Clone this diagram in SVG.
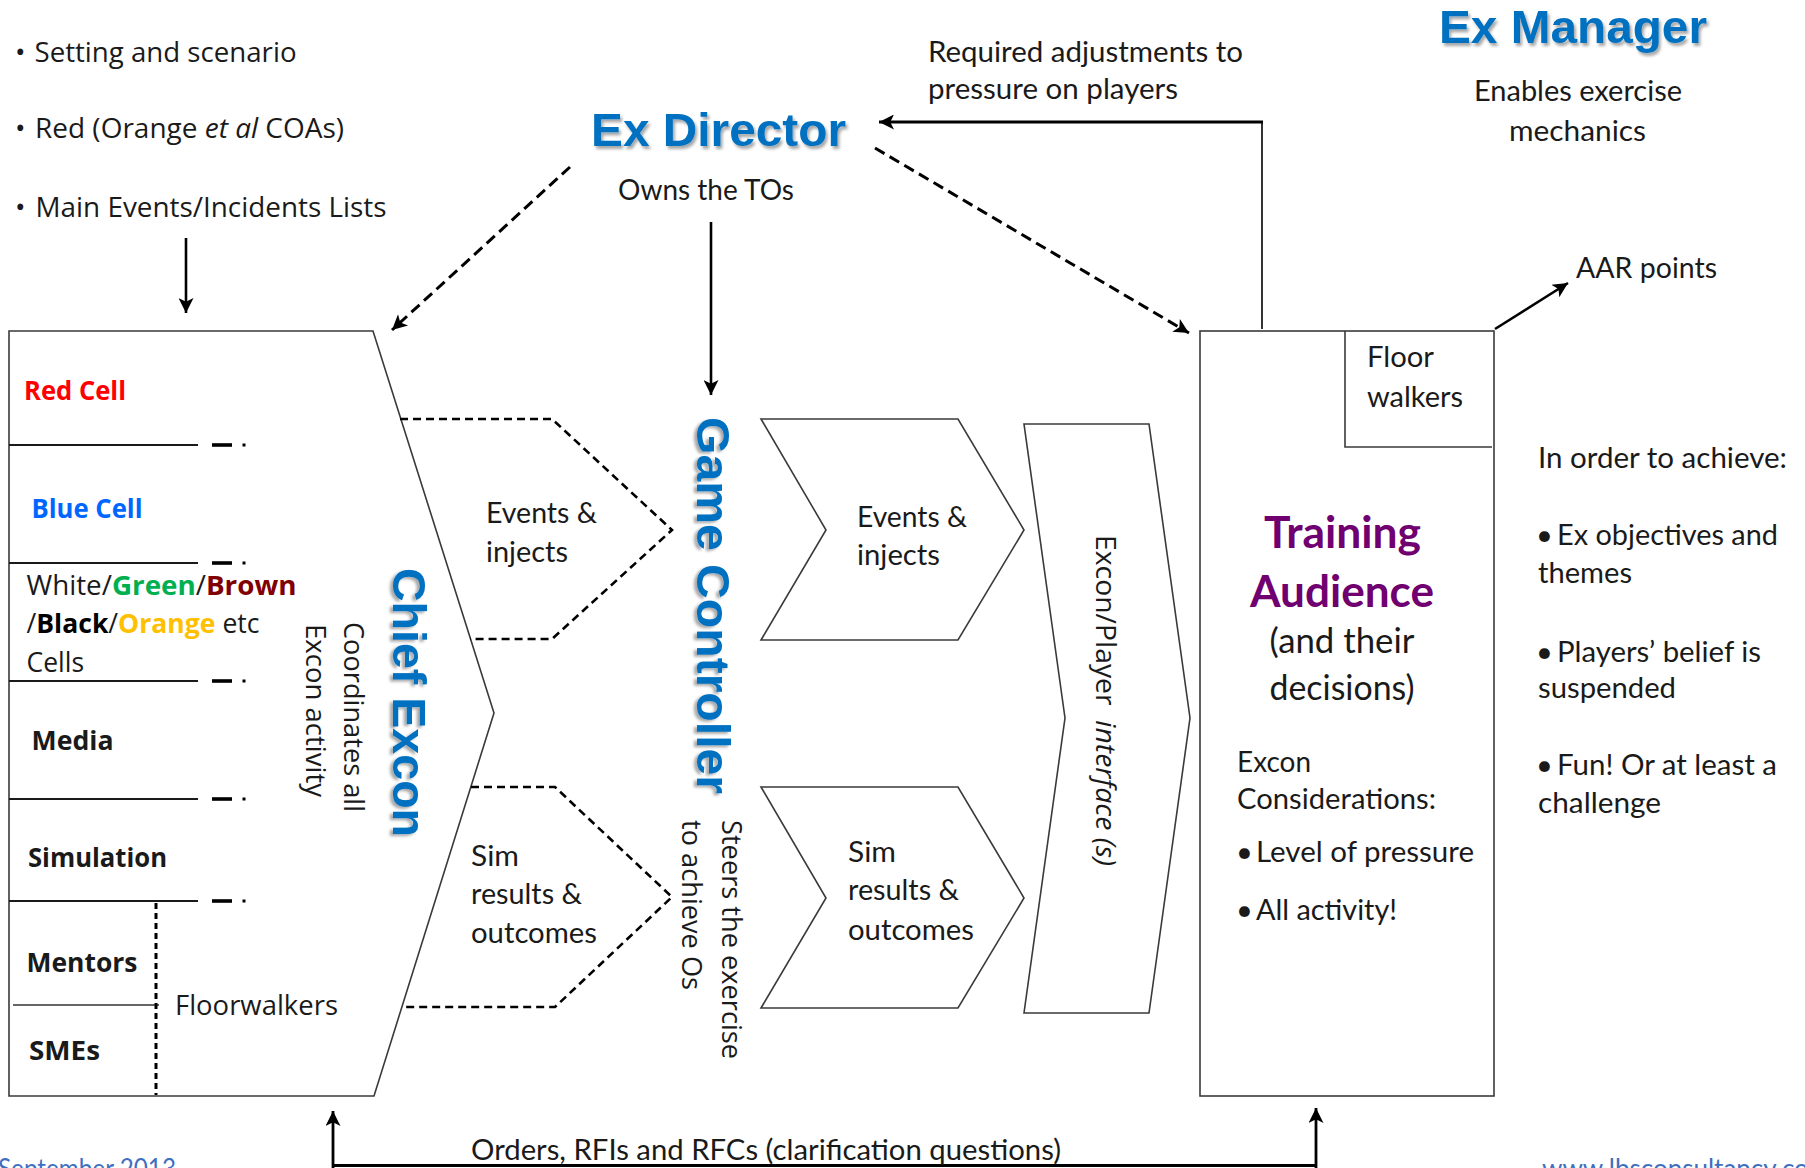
<svg xmlns="http://www.w3.org/2000/svg" width="1805" height="1168" viewBox="0 0 1805 1168">
  <style>
    .os { font-family: "Open Sans", "DejaVu Sans", sans-serif; fill: #1a1a1a; }
    .lt { font-family: Lato, "Liberation Sans", sans-serif; fill: #1a1a1a; }
    .b { font-weight: bold; }
    .ttl { font-family: "Liberation Sans", Arial, sans-serif; font-weight: bold; font-size: 46px; fill: #0070C0; }
    .ta { font-family: Lato, "Liberation Sans", sans-serif; font-weight: bold; font-size: 44px; fill: #700070; }
    .shape { fill: #fff; stroke: #3a3a3a; stroke-width: 1.6; }
    .dash { fill: none; stroke: #000; stroke-width: 2.6; stroke-dasharray: 8 5; }
    .cell { stroke: #1a1a1a; stroke-width: 2; }
    .tick { stroke: #000; stroke-width: 3.6; }
    .arr { fill: none; stroke: #000; stroke-width: 2.6; }
    .arrd { fill: none; stroke: #000; stroke-width: 3; stroke-dasharray: 11 6; }
    .foot { font-family: Lato, "Liberation Sans", sans-serif; font-size: 26px; fill: #3F6FC0; }
  </style>
  <defs>
    <marker id="ah" viewBox="0 0 10 10" refX="10" refY="5" markerWidth="18" markerHeight="15" markerUnits="userSpaceOnUse" orient="auto">
      <path d="M0,0 L10,5 L0,10 L2.5,5 z" fill="#000"/>
    </marker>
    <filter id="sh" x="-10%" y="-20%" width="120%" height="150%">
      <feDropShadow dx="2" dy="3" stdDeviation="1.6" flood-color="#000" flood-opacity="0.35"/>
    </filter>
  </defs>

  <rect width="1805" height="1168" fill="#fff"/>

  <!-- source material notes -->
  <g id="inputs" class="os" font-size="28">
    <text x="15" y="61.7">•</text>
    <text x="34.5" y="61.7" textLength="262" lengthAdjust="spacingAndGlyphs">Setting and scenario</text>
    <text x="15" y="138.3">•</text>
    <text x="35" y="138.3" textLength="309" lengthAdjust="spacingAndGlyphs">Red (Orange <tspan font-style="italic">et al</tspan> COAs)</text>
    <text x="15" y="216.7">•</text>
    <text x="35.5" y="216.7" textLength="351" lengthAdjust="spacingAndGlyphs">Main Events/Incidents Lists</text>
  </g>

  <!-- Ex Director -->
  <g id="ex-director">
    <text class="ttl" x="591" y="146" textLength="255" lengthAdjust="spacingAndGlyphs" filter="url(#sh)">Ex Director</text>
    <text class="lt" font-size="29" x="618" y="200" textLength="176" lengthAdjust="spacingAndGlyphs">Owns the TOs</text>
  </g>

  <!-- Ex Manager -->
  <g id="ex-manager">
    <text class="ttl" x="1439" y="43" textLength="268" lengthAdjust="spacingAndGlyphs" filter="url(#sh)">Ex Manager</text>
    <text class="lt" font-size="29" x="1474" y="101" textLength="208" lengthAdjust="spacingAndGlyphs">Enables exercise</text>
    <text class="lt" font-size="29" x="1509" y="141" textLength="137" lengthAdjust="spacingAndGlyphs">mechanics</text>
  </g>

  <!-- Chief Excon and its cells -->
  <g id="chief-excon">
    <polygon class="shape" points="9,331 373,331 494,713 374,1096 9,1096"/>
    <g>
      <line class="cell" x1="9" y1="445" x2="198" y2="445"/>
      <line class="tick" x1="212" y1="445" x2="232" y2="445"/>
      <rect x="242.5" y="443.5" width="3" height="3" fill="#000"/>
      <line class="cell" x1="9" y1="563" x2="198" y2="563"/>
      <line class="tick" x1="212" y1="563" x2="232" y2="563"/>
      <rect x="242.5" y="561.5" width="3" height="3" fill="#000"/>
      <line class="cell" x1="9" y1="681" x2="198" y2="681"/>
      <line class="tick" x1="212" y1="681" x2="232" y2="681"/>
      <rect x="242.5" y="679.5" width="3" height="3" fill="#000"/>
      <line class="cell" x1="9" y1="799" x2="198" y2="799"/>
      <line class="tick" x1="212" y1="799" x2="232" y2="799"/>
      <rect x="242.5" y="797.5" width="3" height="3" fill="#000"/>
      <line class="cell" x1="9" y1="901" x2="198" y2="901"/>
      <line class="tick" x1="212" y1="901" x2="232" y2="901"/>
      <rect x="242.5" y="899.5" width="3" height="3" fill="#000"/>
      <line x1="13" y1="1005" x2="159" y2="1005" stroke="#333" stroke-width="1.4"/>
      <line x1="156" y1="903" x2="156" y2="1095" stroke="#000" stroke-width="3" stroke-dasharray="6 4"/>
    </g>
    <g class="os" font-size="27">
      <text class="b" x="24" y="400" style="fill:#FF0000" textLength="102" lengthAdjust="spacingAndGlyphs">Red Cell</text>
      <text class="b" x="31.5" y="518" style="fill:#0066FF" textLength="111" lengthAdjust="spacingAndGlyphs">Blue Cell</text>
      <text x="26.5" y="595" textLength="270" lengthAdjust="spacingAndGlyphs">White/<tspan class="b" style="fill:#00B050">Green</tspan>/<tspan class="b" style="fill:#800000">Brown</tspan></text>
      <text x="26.5" y="633" textLength="233" lengthAdjust="spacingAndGlyphs">/<tspan class="b" style="fill:#000">Black</tspan>/<tspan class="b" style="fill:#FFC000">Orange</tspan> etc</text>
      <text x="26.5" y="671.7" textLength="57.5" lengthAdjust="spacingAndGlyphs">Cells</text>
      <text class="b" x="31.5" y="750" textLength="82" lengthAdjust="spacingAndGlyphs">Media</text>
      <text class="b" x="28" y="866.7" textLength="139" lengthAdjust="spacingAndGlyphs">Simulation</text>
      <text class="b" x="26.5" y="971.7" textLength="111" lengthAdjust="spacingAndGlyphs">Mentors</text>
      <text class="b" x="29" y="1060" textLength="71" lengthAdjust="spacingAndGlyphs">SMEs</text>
      <text x="175" y="1015" textLength="163" lengthAdjust="spacingAndGlyphs">Floorwalkers</text>
      <text transform="translate(306,624) rotate(90)" textLength="173" lengthAdjust="spacingAndGlyphs">Excon activity</text>
      <text transform="translate(344,622) rotate(90)" textLength="190" lengthAdjust="spacingAndGlyphs">Coordinates all</text>
    </g>
    <text class="ttl" transform="translate(393,568) rotate(90)" textLength="269" lengthAdjust="spacingAndGlyphs" filter="url(#sh)">Chief Excon</text>
  </g>

  <!-- flows out of Chief Excon -->
  <g id="excon-events">
    <path class="dash" d="M400,419 H552 L672,530 L552,639 H470"/>
    <text class="lt" font-size="29" x="486" y="522.7" textLength="111" lengthAdjust="spacingAndGlyphs">Events &amp;</text>
    <text class="lt" font-size="29" x="486" y="561.7" textLength="82" lengthAdjust="spacingAndGlyphs">injects</text>
  </g>
  <g id="excon-sim">
    <path class="dash" d="M471,787 H555 L672,897 L555,1007 H402"/>
    <text class="lt" font-size="29" x="471" y="866" textLength="48" lengthAdjust="spacingAndGlyphs">Sim</text>
    <text class="lt" font-size="29" x="471" y="904" textLength="111" lengthAdjust="spacingAndGlyphs">results &amp;</text>
    <text class="lt" font-size="29" x="471" y="943" textLength="126" lengthAdjust="spacingAndGlyphs">outcomes</text>
  </g>

  <!-- Game Controller -->
  <g id="game-controller">
    <text class="ttl" transform="translate(697,417) rotate(90)" textLength="377" lengthAdjust="spacingAndGlyphs" filter="url(#sh)">Game Controller</text>
    <text class="os" font-size="27.5" transform="translate(722,820) rotate(90)" textLength="239" lengthAdjust="spacingAndGlyphs">Steers the exercise</text>
    <text class="os" font-size="27.5" transform="translate(682,820) rotate(90)" textLength="170" lengthAdjust="spacingAndGlyphs">to achieve Os</text>
  </g>

  <!-- flows to the players -->
  <g id="gc-events">
    <polygon class="shape" points="761,419 958,419 1024,530 958,640 761,640 826,530"/>
    <text class="lt" font-size="29" x="857" y="527" textLength="110" lengthAdjust="spacingAndGlyphs">Events &amp;</text>
    <text class="lt" font-size="29" x="857" y="565" textLength="83" lengthAdjust="spacingAndGlyphs">injects</text>
  </g>
  <g id="gc-sim">
    <polygon class="shape" points="761,787 958,787 1024,898 958,1008 761,1008 826,898"/>
    <text class="lt" font-size="29" x="848" y="862" textLength="48" lengthAdjust="spacingAndGlyphs">Sim</text>
    <text class="lt" font-size="29" x="848" y="900" textLength="111" lengthAdjust="spacingAndGlyphs">results &amp;</text>
    <text class="lt" font-size="29" x="848" y="940" textLength="126" lengthAdjust="spacingAndGlyphs">outcomes</text>
  </g>

  <!-- Excon / Player interface -->
  <g id="interface">
    <polygon class="shape" points="1024,424 1149,424 1190,718 1149,1013 1024,1013 1065,718"/>
    <text class="os" font-size="27" transform="translate(1096,535) rotate(90)" textLength="331" lengthAdjust="spacingAndGlyphs">Excon/Player&#160;&#160;<tspan font-style="italic">interface (s)</tspan></text>
  </g>

  <!-- Training Audience -->
  <g id="training-audience">
    <rect class="shape" x="1200" y="331" width="294" height="765"/>
    <path d="M1345,331 V447 H1492" fill="none" stroke="#3a3a3a" stroke-width="1.6"/>
    <text class="lt" font-size="29" x="1367" y="367" textLength="67" lengthAdjust="spacingAndGlyphs">Floor</text>
    <text class="lt" font-size="29" x="1367" y="407" textLength="96" lengthAdjust="spacingAndGlyphs">walkers</text>
    <text class="ta" x="1264" y="548" textLength="157" lengthAdjust="spacingAndGlyphs">Training</text>
    <text class="ta" x="1250" y="607" textLength="184" lengthAdjust="spacingAndGlyphs">Audience</text>
    <text class="lt" font-size="34" x="1269.5" y="653" textLength="145" lengthAdjust="spacingAndGlyphs">(and their</text>
    <text class="lt" font-size="34" x="1269.5" y="700" textLength="145" lengthAdjust="spacingAndGlyphs">decisions)</text>
    <text class="lt" font-size="29" x="1237" y="771.7" textLength="74" lengthAdjust="spacingAndGlyphs">Excon</text>
    <text class="lt" font-size="29" x="1237" y="808.5" textLength="199" lengthAdjust="spacingAndGlyphs">Considerations:</text>
    <text class="lt" font-size="29" x="1236" y="862">•</text>
    <text class="lt" font-size="29" x="1256" y="862" textLength="218" lengthAdjust="spacingAndGlyphs">Level of pressure</text>
    <text class="lt" font-size="29" x="1236" y="920">•</text>
    <text class="lt" font-size="29" x="1256" y="920" textLength="141" lengthAdjust="spacingAndGlyphs">All activity!</text>
  </g>

  <!-- aims -->
  <g id="aims" class="lt" font-size="29">
    <text x="1538" y="468" textLength="249" lengthAdjust="spacingAndGlyphs">In order to achieve:</text>
    <text x="1536" y="545">•</text>
    <text x="1557" y="545" textLength="221" lengthAdjust="spacingAndGlyphs">Ex objectives and</text>
    <text x="1538" y="583" textLength="94" lengthAdjust="spacingAndGlyphs">themes</text>
    <text x="1536" y="662">•</text>
    <text x="1557" y="662" textLength="204" lengthAdjust="spacingAndGlyphs">Players’ belief is</text>
    <text x="1538" y="698" textLength="138" lengthAdjust="spacingAndGlyphs">suspended</text>
    <text x="1536" y="775">•</text>
    <text x="1557" y="775" textLength="220" lengthAdjust="spacingAndGlyphs">Fun! Or at least a</text>
    <text x="1538" y="813" textLength="123" lengthAdjust="spacingAndGlyphs">challenge</text>
  </g>

  <!-- connectors -->
  <g id="connectors">
    <path class="arr" d="M186,238 V313" marker-end="url(#ah)"/>
    <path class="arrd" d="M570,167 L392,330" marker-end="url(#ah)"/>
    <path class="arr" d="M711,222 V395" marker-end="url(#ah)"/>
    <path d="M1262,329 V122" fill="none" stroke="#000" stroke-width="1.6"/>
    <path d="M1263,122 H879" fill="none" stroke="#000" stroke-width="3.2" marker-end="url(#ah)"/>
    <path class="arrd" d="M875,148 L1189,333" marker-end="url(#ah)"/>
    <path class="arr" d="M1495,329 L1568,283" marker-end="url(#ah)"/>
    <path d="M333,1168 V1111" fill="none" stroke="#000" stroke-width="2.8" marker-end="url(#ah)"/>
    <path d="M1316,1168 V1108" fill="none" stroke="#000" stroke-width="2.8" marker-end="url(#ah)"/>
    <path d="M333,1165.5 H1316" fill="none" stroke="#000" stroke-width="3"/>
  </g>

  <!-- connector labels -->
  <g id="labels" class="lt" font-size="29">
    <text x="928" y="61.7" textLength="315" lengthAdjust="spacingAndGlyphs">Required adjustments to</text>
    <text x="928" y="99" textLength="250" lengthAdjust="spacingAndGlyphs">pressure on players</text>
    <text x="1576" y="278" textLength="141" lengthAdjust="spacingAndGlyphs">AAR points</text>
    <text x="471" y="1160" textLength="590" lengthAdjust="spacingAndGlyphs">Orders, RFIs and RFCs (clarification questions)</text>
  </g>

  <!-- footer -->
  <text class="foot" x="-2" y="1178" textLength="178" lengthAdjust="spacingAndGlyphs">September 2013</text>
  <text class="foot" x="1542" y="1178">www.lbsconsultancy.co.uk</text>
</svg>
